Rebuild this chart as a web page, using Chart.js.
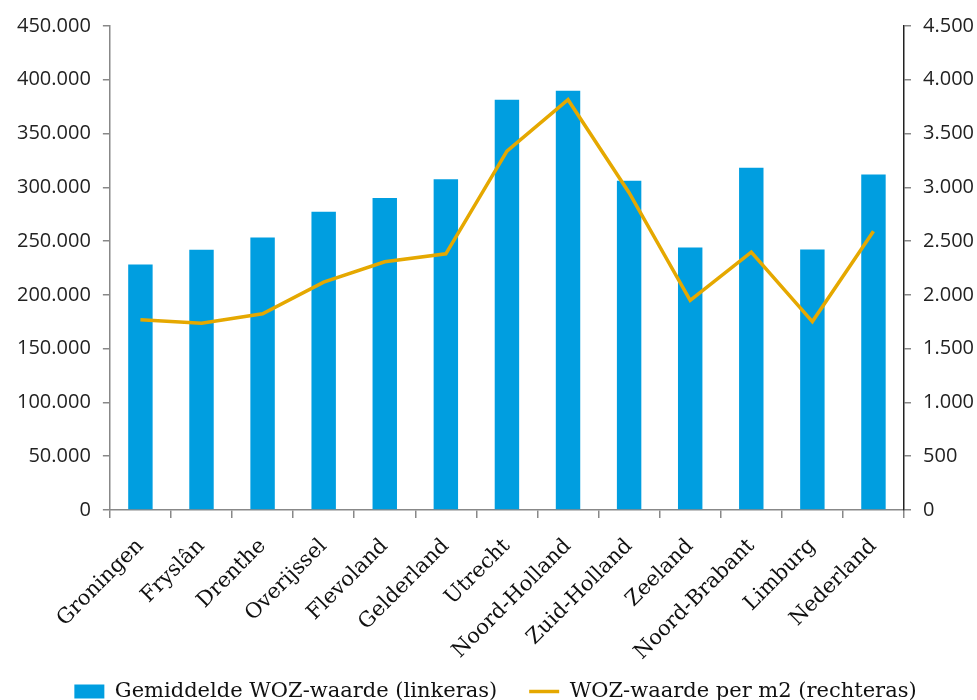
<!DOCTYPE html>
<html>
<head>
<meta charset="utf-8">
<script src="https://cdn.jsdelivr.net/npm/chart.js@4/dist/chart.umd.min.js"></script>
<style>
  html, body { margin: 0; padding: 0; background: #fff; }
  #wrap { width: 977px; height: 700px; }
</style>
</head>
<body>
<div id="wrap"><canvas id="wozChart" width="977" height="700"></canvas></div>
<script>
// Provinces plus the national figure
const provincies = ["Groningen", "Fryslân", "Drenthe", "Overijssel", "Flevoland", "Gelderland",
    "Utrecht", "Noord-Holland", "Zuid-Holland", "Zeeland", "Noord-Brabant", "Limburg", "Nederland"];

// Average WOZ value in euro (left axis)
const gemiddeldeWoz = [228300, 241900, 253400, 277300, 290000, 307400,
    381500, 389900, 306100, 244100, 318200, 242200, 312000];

// WOZ value per m2 in euro (right axis)
const wozPerM2 = [1768, 1736, 1824, 2118, 2308, 2382,
    3337, 3815, 2950, 1948, 2397, 1752, 2592];

const leftMax = 450000, leftStep = 50000;
const rightMax = 4500, rightStep = 500;

const blauw = '#009ee0';
const geel = '#e5a800';

// 450000 -> "450.000"
function formatNl(v) {
    return String(v).replace(/\B(?=(\d{3})+(?!\d))/g, '.');
}

// long rotated names run a little into the legend band; don't clip them there
const labelRuimte = {
    id: 'labelRuimte',
    afterLayout(chart) {
        chart.scales.x.bottom = chart.height;
    }
};

function initializeChart() {
    const ctx = document.getElementById('wozChart').getContext('2d');

    new Chart(ctx, {
        data: {
            labels: provincies,
            datasets: [{
                type: 'bar',
                label: 'Gemiddelde WOZ-waarde (linkeras)',
                data: gemiddeldeWoz,
                yAxisID: 'links',
                backgroundColor: blauw,
                borderWidth: 0,
                barPercentage: 0.8,
                categoryPercentage: 0.5,
                pointStyle: 'rect',
                order: 2
            }, {
                type: 'line',
                label: 'WOZ-waarde per m2 (rechteras)',
                data: wozPerM2,
                yAxisID: 'rechts',
                borderColor: geel,
                backgroundColor: geel,
                borderWidth: 3.5,
                pointRadius: 0,
                pointHoverRadius: 0,
                tension: 0,
                pointStyle: 'line',
                order: 1
            }]
        },
        plugins: [labelRuimte],
        options: {
            responsive: false,
            animation: false,
            layout: { padding: { top: 26, right: -9, left: 5, bottom: -12 } },
            plugins: {
                tooltip: { enabled: false },
                legend: {
                    position: 'bottom',
                    labels: {
                        usePointStyle: true,
                        pointStyleWidth: 30,
                        boxHeight: 14,
                        padding: 32,
                        color: '#111',
                        font: { family: 'DejaVu Serif', size: 21 },
                        // keep bars first, line second
                        sort: (a, b) => a.datasetIndex - b.datasetIndex
                    }
                }
            },
            scales: {
                x: {
                    offset: true,
                    border: { color: '#888', width: 1.5 },
                    grid: { offset: true, drawOnChartArea: false, drawTicks: true, tickLength: 8, color: '#888', lineWidth: 1.5 },
                    ticks: {
                        minRotation: 45,
                        maxRotation: 45,
                        padding: 16,
                        color: '#111',
                        font: { family: 'DejaVu Serif', size: 21 }
                    },
                    // fixed band for the rotated labels so the legend sits below them
                    afterFit: (scale) => {
                        scale.paddingLeft = 0;
                        scale.paddingRight = 0;
                        scale.height = 139;
                    }
                },
                links: {
                    position: 'left',
                    min: 0,
                    max: leftMax,
                    border: { color: '#888', width: 1.5 },
                    grid: { drawOnChartArea: false, drawTicks: true, tickLength: 7, color: '#888', lineWidth: 1.5 },
                    ticks: {
                        stepSize: leftStep,
                        padding: 12,
                        color: '#222',
                        font: { family: 'Open Sans', size: 20 },
                        callback: (v) => formatNl(v)
                    }
                },
                rechts: {
                    position: 'right',
                    min: 0,
                    max: rightMax,
                    border: { color: '#222', width: 1.5 },
                    grid: { drawOnChartArea: false, drawTicks: true, tickLength: 7, color: '#888', lineWidth: 1.5 },
                    ticks: {
                        stepSize: rightStep,
                        padding: 12,
                        color: '#222',
                        font: { family: 'Open Sans', size: 20 },
                        callback: (v) => formatNl(v)
                    }
                }
            }
        }
    });
}

initializeChart();
</script>
</body>
</html>
